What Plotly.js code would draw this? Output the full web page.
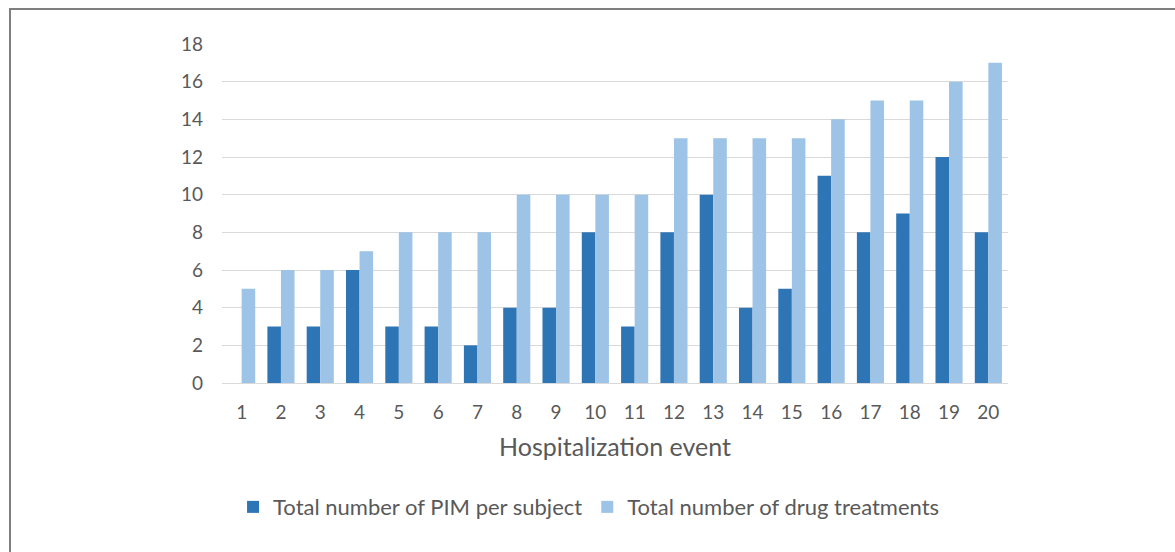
<!DOCTYPE html>
<html>
<head>
<meta charset="utf-8">
<script src="https://cdn.plot.ly/plotly-3.0.1.min.js"></script>
<style>
html,body{margin:0;padding:0;background:#fff;overflow:hidden;}
#frame{position:absolute;left:9px;top:8px;width:1200px;height:600px;border-top:2px solid #7f7f7f;border-left:2px solid #7f7f7f;pointer-events:none;z-index:10;}
#chart{position:absolute;left:0;top:0;width:1175px;height:552px;}
</style>
</head>
<body>
<div id="chart"></div>
<div id="frame"></div>
<script>
const events = ["1","2","3","4","5","6","7","8","9","10","11","12","13","14","15","16","17","18","19","20"];
const pimPerSubject = [0,3,3,6,3,3,2,4,4,8,3,8,10,4,5,11,8,9,12,8];
const drugTreatments = [5,6,6,7,8,8,8,10,10,10,10,13,13,13,13,14,15,15,16,17];
const yTicks = [0,2,4,6,8,10,12,14,16,18];

const font = "Lato, 'Open Sans', sans-serif";
const traces = [
  {type:"bar", x:events, y:pimPerSubject, name:"Total number of PIM per subject", marker:{color:"#2E75B6"}},
  {type:"bar", x:events, y:drugTreatments, name:"Total number of drug treatments", marker:{color:"#9DC3E6"}}
];
const layout = {
  width:1175, height:552,
  margin:{l:222, r:167, t:44, b:169},
  paper_bgcolor:"#fff", plot_bgcolor:"#fff",
  barmode:"group", bargap:0.31, bargroupgap:0,
  font:{family:font, color:"#595959", size:19},
  xaxis:{type:"category", tickvals:events, ticktext:events, showgrid:false, showline:true, linecolor:"#d9d9d9", linewidth:1, ticks:"", tickfont:{size:19, color:"#595959"}, ticklabelstandoff:12,
    title:{text:"Hospitalization event", font:{size:25, color:"#595959"}, standoff:16}},
  yaxis:{range:[0,18], tickvals:yTicks, showgrid:true, gridcolor:"#d9d9d9", gridwidth:1, zeroline:false, showline:false, ticks:"", tickfont:{size:19, color:"#595959"}, ticklabelstandoff:18, fixedrange:true},
  legend:{orientation:"h", x:0.467, xanchor:"center", y:-0.366, yanchor:"middle", font:{size:22, color:"#595959"}, itemwidth:30, traceorder:"normal"},
  showlegend:true
};
Plotly.newPlot("chart", traces, layout, {displayModeBar:false, staticPlot:true});
</script>
</body>
</html>
